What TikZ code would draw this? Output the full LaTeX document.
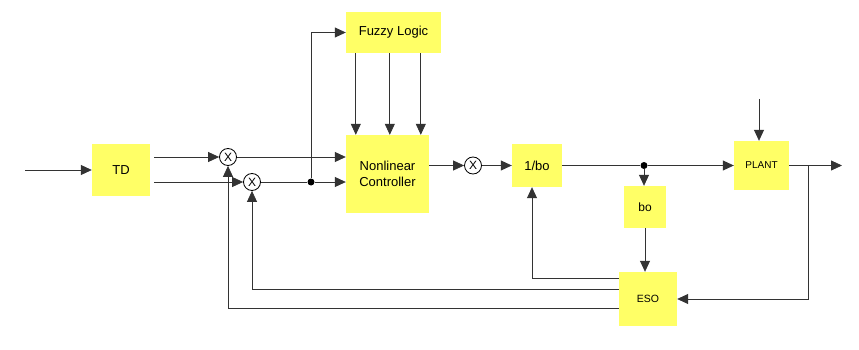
\documentclass[tikz,border=0pt]{standalone}
\usepackage{fontspec}
\setmainfont{Liberation Sans}
\usepackage{xcolor}
\definecolor{blockyellow}{RGB}{255,255,102}
\usetikzlibrary{arrows.meta, positioning, calc}

\begin{document}
\begin{tikzpicture}[
  x=1pt, y=-1pt,
  block/.style={rectangle, fill=blockyellow, inner sep=0pt, align=center,
                font=\fontsize{13}{16}\selectfont},
  mixer/.style={circle, draw=black, fill=white, inner sep=0pt, minimum size=17pt,
                line width=0.8pt, font=\fontsize{12}{12}\selectfont},
  junction/.style={circle, fill=black, inner sep=0pt, minimum size=7pt},
  arrow/.style={-{Triangle[length=11pt,width=10pt]}, draw=black!80, line width=0.8pt},
  line/.style={draw=black!80, line width=0.8pt}
]
\useasboundingbox[fill=white] (0,0) rectangle (859,350);

\node[block, minimum width=58pt, minimum height=52pt] (td) at (121,170) {TD};
\node[block, minimum width=83pt, minimum height=78pt] (ctrl) at (387.5,174) {Nonlinear\\Controller};
\node[block, minimum width=95pt, minimum height=41pt] (fuzzy) at (393.5,32.5) {Fuzzy Logic};
\node[block, minimum width=50pt, minimum height=43pt] (inv) at (537,165.5) {1/bo};
\node[block, minimum width=55pt, minimum height=49pt, font=\fontsize{10}{12}\selectfont] (plant) at (761.5,165.5) {PLANT};
\node[block, minimum width=42pt, minimum height=42pt, font=\fontsize{12}{14}\selectfont] (bo) at (645,207) {bo};
\node[block, minimum width=58pt, minimum height=54pt, font=\fontsize{10.5}{12}\selectfont] (eso) at (648,299) {ESO};

\node[mixer] (m1) at (228,157) {X};
\node[mixer] (m2) at (252,182) {X};
\node[mixer] (m3) at (473,165.5) {X};
\node[junction] (j1) at (311,182) {};
\node[junction] (j2) at (644,165.5) {};

\coordinate (in) at (25,170);
\coordinate (dist) at (759,99);
\coordinate (out) at (842,165.5);
\coordinate (tap) at (808,165.5);
\coordinate (tdo) at ($(td.east)+(4,0)$);
\coordinate (f1) at ($(fuzzy.south west)+(10,0)$);
\coordinate (f2) at ($(fuzzy.south west)+(44,0)$);
\coordinate (f3) at ($(fuzzy.south west)+(75,0)$);
\coordinate (e1) at ($(eso.north west)+(0,7)$);
\coordinate (e2) at ($(eso.north west)+(0,18)$);
\coordinate (e3) at ($(eso.north west)+(0,37)$);

% forward path
\draw[arrow] (in) -- (td);
\draw[arrow] (tdo |- m1) -- (m1);
\draw[arrow] (tdo |- m2) -- (m2);
\draw[arrow] (m1) -- (ctrl.west |- m1);
\draw[line] (m2) -- (j1);
\draw[arrow] (j1) -- (ctrl.west |- j1);
\draw[arrow] (j1) |- (fuzzy.west);
\draw[arrow] (f1) -- (f1 |- ctrl.north);
\draw[arrow] (f2) -- (f2 |- ctrl.north);
\draw[arrow] (f3) -- (f3 |- ctrl.north);
\draw[arrow] (ctrl.east |- m3) -- (m3);
\draw[arrow] (m3) -- (inv);
\draw[line] (inv) -- (j2);
\draw[arrow] (j2) -- (plant);
\draw[arrow] (j2) -- (j2 |- bo.north);
\draw[arrow] (bo) -- (bo |- eso.north);
\draw[arrow] (dist) -- (dist |- plant.north);
\draw[arrow] (plant) -- (out);

% feedback
\draw[arrow] (tap) |- (eso.east);
\draw[arrow] (e1) -| ($(inv.south)+(-5,0)$);
\draw[arrow] (e2) -| (m2.south);
\draw[arrow] (e3) -| (m1.south);
\end{tikzpicture}
\end{document}
